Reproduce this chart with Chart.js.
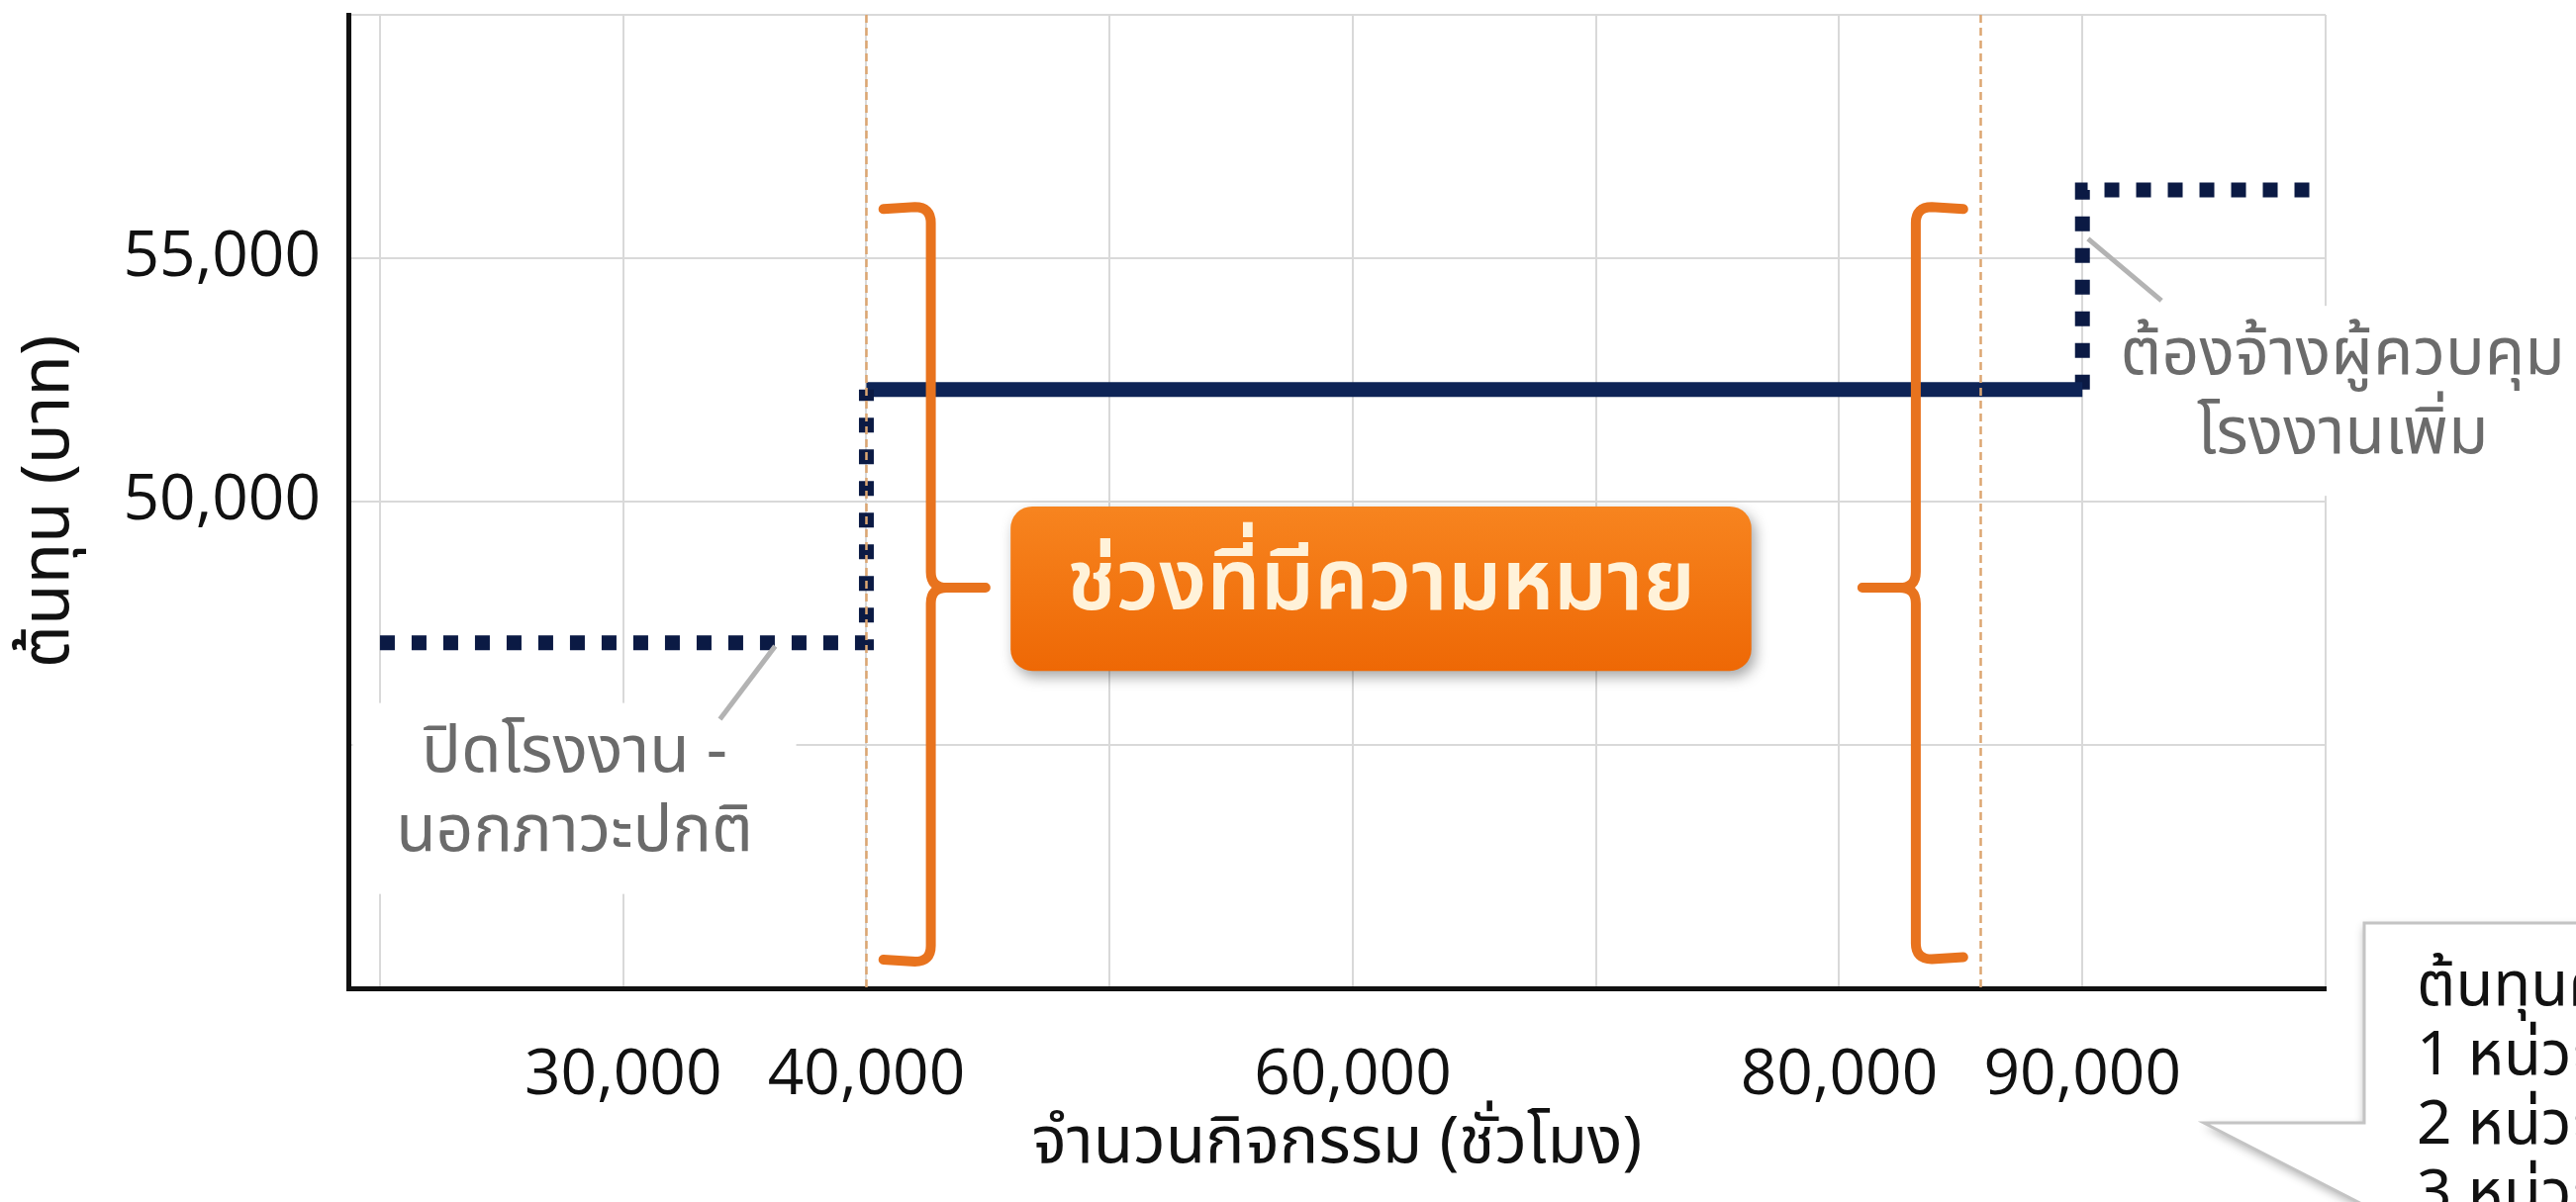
<!DOCTYPE html>
<html>
<head>
<meta charset="utf-8">
<script src="https://cdn.jsdelivr.net/npm/chart.js@4.4.1/dist/chart.umd.min.js"></script>
<style>
  html, body { margin: 0; padding: 0; background: #fff; }
  canvas { display: block; }
</style>
</head>
<body>
<canvas id="step-cost" width="2603" height="1215"></canvas>
<script>
// activity (hours) where the cost steps, and the cost (baht) on each step
const activityBreaks = [20000, 40000, 90000, 100000];
const costLevels = [47100, 52300, 56400];
// relevant range (hours)
const relevantRange = [40000, 85800];
// grid and labelled ticks
const xGrid = [20000, 30000, 40000, 50000, 60000, 70000, 80000, 90000, 100000];
const yGrid = [40000, 45000, 50000, 55000, 60000];
const xTickLabels = [30000, 40000, 60000, 80000, 90000];
const yTickLabels = [50000, 55000];

const THAI = "'Noto Sans Thai', 'Noto Sans Thai UI', 'Open Sans', sans-serif";
const NUM = "'Open Sans', 'Noto Sans', sans-serif";
const NAVY = '#0e2456';
const DOTS = '#0b1a44';
const ORANGE = '#e8731e';

const fmt = v => v.toLocaleString('en-US');

// below the relevant range: plant shut down
const lowStep = [
  { x: activityBreaks[0], y: costLevels[0] },
  { x: activityBreaks[1], y: costLevels[0] },
  { x: activityBreaks[1], y: costLevels[1] }
];
// inside the relevant range
const midStep = [
  { x: activityBreaks[1], y: costLevels[1] },
  { x: activityBreaks[2], y: costLevels[1] }
];
// above it: extra supervisor
const highStep = [
  { x: activityBreaks[2], y: costLevels[1] },
  { x: activityBreaks[2], y: costLevels[2] },
  { x: activityBreaks[3], y: costLevels[2] }
];

function brace(ctx, x, y, at, tipX, nubX, yTop, yMid, yBot) {
  const x0 = x.getPixelForValue(at), xe = x.getPixelForValue(tipX), xn = x.getPixelForValue(nubX);
  const t = y.getPixelForValue(yTop), m = y.getPixelForValue(yMid), b = y.getPixelForValue(yBot);
  const s = xn > x0 ? 1 : -1;
  const r = 16;
  ctx.beginPath();
  ctx.moveTo(xe, t + 2);
  ctx.lineTo(x0 - r * s, t);
  ctx.quadraticCurveTo(x0, t, x0, t + r);
  ctx.lineTo(x0, m - r);
  ctx.quadraticCurveTo(x0, m, x0 + r * s, m);
  ctx.lineTo(xn, m);
  ctx.moveTo(x0 + r * s, m);
  ctx.quadraticCurveTo(x0, m, x0, m + r);
  ctx.lineTo(x0, b - r);
  ctx.quadraticCurveTo(x0, b, x0 - r * s, b);
  ctx.lineTo(xe, b - 2);
  ctx.stroke();
}

function roundRect(ctx, x, y, w, h, r) {
  ctx.beginPath();
  ctx.moveTo(x + r, y);
  ctx.arcTo(x + w, y, x + w, y + h, r);
  ctx.arcTo(x + w, y + h, x, y + h, r);
  ctx.arcTo(x, y + h, x, y, r);
  ctx.arcTo(x, y, x + w, y, r);
  ctx.closePath();
}

const notes = [
  { x: 28000, y: 43900, w: 448, h: 193, lines: ['ปิดโรงงาน -', 'นอกภาวะปกติ'],
    leader: [36250, 47030, 33980, 45530] },
  { x: 100700, y: 52070, w: 450, h: 192, lines: ['ต้องจ้างผู้ควบคุม', 'โรงงานเพิ่ม'],
    leader: [90230, 55400, 93250, 54130] }
];

const annotations = {
  id: 'annotations',
  beforeDatasetsDraw(chart) {
    // white backing behind the grey notes
    const { ctx, scales: { x, y } } = chart;
    ctx.save();
    ctx.fillStyle = '#fff';
    notes.forEach(n => {
      const cx = x.getPixelForValue(n.x), cy = y.getPixelForValue(n.y);
      const left = Math.max(cx - n.w / 2, chart.chartArea.left + 4);
      ctx.fillRect(left, cy - n.h / 2, cx + n.w / 2 - left, n.h);
    });
    ctx.restore();
  },
  afterDatasetsDraw(chart) {
    const { ctx, chartArea, scales: { x, y } } = chart;
    ctx.save();

    // relevant range limits
    ctx.strokeStyle = '#dda671';
    ctx.lineWidth = 2.5;
    ctx.setLineDash([8, 5]);
    relevantRange.forEach(v => {
      const px = Math.round(x.getPixelForValue(v)) + 0.5;
      ctx.beginPath();
      ctx.moveTo(px, chartArea.top);
      ctx.lineTo(px, chartArea.bottom);
      ctx.stroke();
    });
    ctx.setLineDash([]);

    // braces
    ctx.strokeStyle = ORANGE;
    ctx.lineWidth = 10;
    ctx.lineCap = 'round';
    ctx.lineJoin = 'round';
    brace(ctx, x, y, 42650, 40700, 44900, 56050, 48230, 40550);
    brace(ctx, x, y, 83150, 85100, 80950, 56050, 48230, 40600);

    // label box
    const bx = x.getPixelForValue(45930), bx2 = x.getPixelForValue(76390);
    const by = y.getPixelForValue(49900), by2 = y.getPixelForValue(46520);
    ctx.save();
    ctx.shadowColor = 'rgba(0,0,0,0.35)';
    ctx.shadowBlur = 14;
    ctx.shadowOffsetX = 4;
    ctx.shadowOffsetY = 6;
    const grad = ctx.createLinearGradient(0, by, 0, by2);
    grad.addColorStop(0, '#f7841f');
    grad.addColorStop(1, '#ee6805');
    ctx.fillStyle = grad;
    roundRect(ctx, bx, by, bx2 - bx, by2 - by, 22);
    ctx.fill();
    ctx.restore();
    ctx.fillStyle = '#fff2d9';
    ctx.font = `600 86px ${THAI}`;
    ctx.textAlign = 'center';
    ctx.textBaseline = 'middle';
    ctx.fillText('ช่วงที่มีความหมาย', (bx + bx2) / 2, (by + by2) / 2 + 4);

    // grey notes and their leaders
    ctx.strokeStyle = '#b3b3b3';
    ctx.lineWidth = 5;
    ctx.lineCap = 'butt';
    notes.forEach(n => {
      const [x1, y1, x2, y2] = n.leader;
      ctx.beginPath();
      ctx.moveTo(x.getPixelForValue(x1), y.getPixelForValue(y1));
      ctx.lineTo(x.getPixelForValue(x2), y.getPixelForValue(y2));
      ctx.stroke();
      const cx = x.getPixelForValue(n.x), cy = y.getPixelForValue(n.y);
      ctx.fillStyle = '#6b6b6b';
      ctx.font = `66px ${THAI}`;
      ctx.fillText(n.lines[0], cx, cy - 40);
      ctx.fillText(n.lines[1], cx, cy + 40);
    });
    ctx.restore();
  },
  afterDraw(chart) {
    // callout box running off the bottom right corner
    const ctx = chart.ctx;
    ctx.save();
    ctx.beginPath();
    ctx.moveTo(2620, 933);
    ctx.lineTo(2389, 933);
    ctx.lineTo(2389, 1135);
    ctx.lineTo(2227, 1135);
    ctx.lineTo(2480, 1265);
    ctx.lineTo(2620, 1265);
    ctx.closePath();
    ctx.fillStyle = '#fff';
    ctx.shadowColor = 'rgba(0,0,0,0.3)';
    ctx.shadowBlur = 10;
    ctx.shadowOffsetY = 4;
    ctx.fill();
    ctx.shadowColor = 'transparent';
    ctx.strokeStyle = '#c4c4c4';
    ctx.lineWidth = 3;
    ctx.beginPath();
    ctx.moveTo(2620, 933);
    ctx.lineTo(2389, 933);
    ctx.lineTo(2389, 1135);
    ctx.lineTo(2227, 1135);
    ctx.lineTo(2480, 1265);
    ctx.stroke();
    ctx.fillStyle = '#111';
    ctx.font = `62px ${THAI}`;
    ctx.textAlign = 'left';
    ctx.textBaseline = 'middle';
    ['ต้นทุนคงที่', '1 หน่วย', '2 หน่วย', '3 หน่วย'].forEach((t, i) => {
      ctx.fillText(t, 2442, 1003 + i * 70);
    });
    ctx.restore();
  }
};

new Chart('step-cost', {
  type: 'line',
  data: {
    datasets: [
      { data: lowStep, borderColor: DOTS, borderWidth: 15, borderDash: [15, 17], borderCapStyle: 'butt' },
      { data: midStep, borderColor: NAVY, borderWidth: 15, borderCapStyle: 'butt' },
      { data: highStep, borderColor: DOTS, borderWidth: 15, borderDash: [15, 17], borderCapStyle: 'butt' }
    ]
  },
  options: {
    responsive: false,
    animation: false,
    devicePixelRatio: 1,
    parsing: false,
    elements: { point: { radius: 0 }, line: { tension: 0, borderJoinStyle: 'miter' } },
    layout: { padding: { top: 15, right: 253, bottom: 0, left: 0 } },
    plugins: { legend: { display: false }, tooltip: { enabled: false } },
    scales: {
      x: {
        type: 'linear',
        min: 18700,
        max: 100000,
        afterBuildTicks: s => { s.ticks = xGrid.map(v => ({ value: v })); },
        afterFit: s => { s.height = 216; s.paddingLeft = 0; s.paddingRight = 0; },
        ticks: {
          callback: v => xTickLabels.includes(v) ? fmt(v) : '',
          font: { family: NUM, size: 64 },
          color: '#111',
          padding: 50,
          maxRotation: 0,
          autoSkip: false
        },
        grid: { color: '#d9d9d9', lineWidth: 2, drawTicks: false },
        border: { color: '#111', width: 5 },
        title: {
          display: true,
          text: 'จำนวนกิจกรรม (ชั่วโมง)',
          font: { family: THAI, size: 66 },
          color: '#111',
          padding: { top: 0, bottom: 14 }
        }
      },
      y: {
        min: 40000,
        max: 60000,
        afterBuildTicks: s => { s.ticks = yGrid.map(v => ({ value: v })); },
        afterFit: s => { s.width = 352; s.paddingTop = 0; s.paddingBottom = 0; },
        ticks: {
          callback: v => yTickLabels.includes(v) ? fmt(v) : '',
          font: { family: NUM, size: 64 },
          color: '#111',
          padding: 28
        },
        grid: { color: '#d9d9d9', lineWidth: 2, drawTicks: false },
        border: { color: '#111', width: 5 },
        title: {
          display: true,
          text: 'ต้นทุน (บาท)',
          font: { family: THAI, size: 68 },
          color: '#111',
          padding: { top: 14, bottom: 0 }
        }
      }
    }
  },
  plugins: [annotations]
});
</script>
</body>
</html>
